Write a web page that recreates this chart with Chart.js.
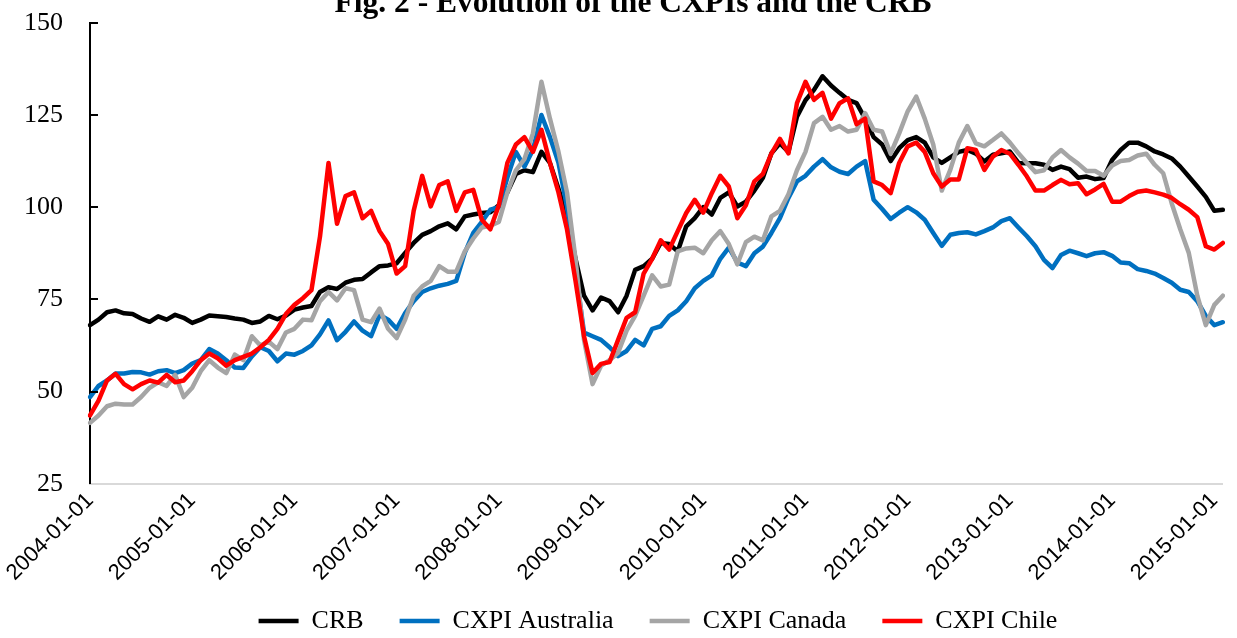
<!DOCTYPE html>
<html>
<head>
<meta charset="utf-8">
<title>Fig. 2 - Evolution of the CXPIs and the CRB</title>
<script src="https://cdn.jsdelivr.net/npm/chart.js@4.4.1/dist/chart.umd.min.js"></script>
<style>
    html, body { margin: 0; padding: 0; background: #fff; overflow: hidden; }
    #wrap { position: relative; width: 1237px; height: 638px; overflow: hidden; }
    /* the figure is cropped at the top in the original, so the canvas sits a bit higher */
    #fig2 { position: absolute; left: 0; top: -20px; }
</style>
</head>
<body>
<div id="wrap"><canvas id="fig2" width="1237" height="664"></canvas></div>
<script>
// --- Data (monthly readings, Jan 2004 - Feb 2015) ---
const tickLabels = ['2004-01-01', '2005-01-01', '2006-01-01', '2007-01-01', '2008-01-01', '2009-01-01',
    '2010-01-01', '2011-01-01', '2012-01-01', '2013-01-01', '2014-01-01', '2015-01-01'];

const months = [];
for (let y = 2004; y <= 2015; y++) {
    for (let m = 1; m <= 12; m++) {
        if (y === 2015 && m > 2) break;
        months.push(`${y}-${String(m).padStart(2, '0')}-01`);
    }
}

const crb = [
    68, 69.5, 71.5, 72, 71.2, 71, 69.8, 68.9, 70.4, 69.5, 70.8, 70,
    68.6, 69.5, 70.6, 70.4, 70.2, 69.8, 69.5, 68.6, 69, 70.5, 69.6, 70.6,
    72.2, 72.8, 73.2, 77, 78.3, 77.8, 79.5, 80.3, 80.5, 82.3, 84, 84.2,
    84.8, 87.6, 90.3, 92.5, 93.5, 94.8, 95.6, 94, 97.5, 98, 98.4, 98.6,
    100.5, 104, 109, 110, 109.5, 115, 112, 105, 97.5, 86, 76, 72,
    75.5, 74.5, 71.5, 76, 83, 84, 86, 90.3, 90, 88, 94.8, 97,
    100, 98, 102.5, 104, 100.2, 101.5, 104.5, 108, 114.6, 117.3, 115, 124.5,
    129, 131.8, 135.5, 133, 131, 129.1, 128.2, 124, 119, 117, 112.5, 116,
    118.2, 119, 117.5, 113.5, 112, 113.5, 115, 115.5, 114.5, 112.4, 114.2, 114.6,
    115.1, 112, 111.9, 111.9, 111.5, 110.1, 111, 110.3, 108, 108.3, 107.6, 107.9,
    112.8, 115.5, 117.5, 117.5, 116.5, 115.1, 114.3, 113.2, 111, 108.3, 105.6, 102.8,
    99, 99.3
];

const cxpiAustralia = [
    48.5, 51.5, 53, 54.9, 54.9, 55.3, 55.2, 54.6, 55.5, 55.8, 55, 55.8,
    57.6, 58.5, 61.5, 60.3, 58.5, 56.5, 56.4, 59.5, 62, 61, 58.2, 60.3,
    60, 61, 62.5, 65.5, 69.3, 63.9, 66.2, 69, 66.5, 65, 70.8, 69.5,
    67, 71.3, 74.5, 77, 78, 78.7, 79.2, 80, 87.6, 93, 96, 99.3,
    100, 108, 115, 111, 115.5, 125, 119, 112, 100, 83, 66, 65,
    64, 62, 59.6, 61, 64, 62.5, 67, 67.7, 70.5, 72, 74.5, 78,
    80, 81.5, 86, 89, 85, 84, 87.5, 89.3, 93, 97, 102.5, 107,
    108.5, 111, 113, 110.8, 109.6, 109, 111, 112.5, 102, 99.5, 96.8, 98.5,
    100, 98.6, 96.6, 93, 89.5, 92.5, 93, 93.2, 92.6, 93.5, 94.5, 96.2,
    97, 94.5, 92.1, 89.4, 85.7, 83.5, 87, 88.2, 87.5, 86.7, 87.5, 87.8,
    86.8, 85, 84.8, 83.2, 82.7, 82, 80.8, 79.5, 77.6, 77, 74.5, 70.5,
    68, 68.8
];

const cxpiCanada = [
    41.5, 43.5, 46, 46.7, 46.5, 46.5, 48.5, 51, 52.5, 51.5, 54.5, 48.5,
    51, 55.5, 58.5, 56.5, 55, 60, 58.5, 65, 62.5, 63.5, 61.5, 66,
    67, 69.5, 69.3, 74.5, 77, 74.7, 78, 77.5, 69.5, 68.8, 72.5, 67,
    64.5, 69.5, 76, 78.5, 80, 84, 82.5, 82.5, 88, 91.5, 94.5, 95,
    96, 104, 110, 113, 120, 134, 124, 115, 104, 86, 64, 52,
    57, 58.5, 60.5, 66.5, 70.5, 76, 81.5, 78.5, 79, 88, 88.8, 89,
    87.5, 91, 93.5, 90, 84.5, 90.5, 92, 91, 97.5, 99, 103.5, 110,
    115, 122.8, 124.5, 121, 122, 120.5, 121, 125.5, 121, 120.5, 114.5, 120,
    126, 130, 124, 117, 104.5, 110.1, 117.5, 122, 117.3, 116.5, 118.2, 120,
    117.5, 114.6, 112, 109.5, 110, 113.5, 115.5, 113.5, 111.8, 109.8, 109.8, 108.5,
    111.3, 112.5, 112.8, 114, 114.5, 111.5, 109.2, 101, 94, 87.6, 76, 68,
    73.5, 76
];

const cxpiChile = [
    43.5, 47.5, 53, 54.8, 52, 50.6, 52, 53, 52.4, 54.5, 52.5, 53,
    55.5, 58.5, 60.3, 59, 57, 58.5, 59.4, 60.3, 62, 64, 67, 71,
    73.5, 75.3, 77.5, 92, 112, 95.5, 103, 104, 97, 99, 93.5, 90,
    82, 84, 99, 108.5, 100.2, 106, 107, 99, 104, 104.7, 96.6, 94,
    100.5, 112, 117, 119, 115, 121, 112, 104, 94, 80, 65, 55,
    57.5, 58, 64, 70, 71.5, 82, 86, 91, 88.5, 93.5, 98.4, 102,
    98.5, 103.8, 108.5, 105.6, 97, 100.5, 107, 109, 114.5, 118.5, 114.6, 128.2,
    134, 129.1, 131, 124, 128.2, 129.5, 122.5, 124, 107, 106, 103.8, 112,
    116.5, 117.5, 115, 109.2, 105.6, 107.5, 107.5, 116, 115.5, 110.1, 113.7, 115.5,
    114.5, 111.5, 108.3, 104.5, 104.5, 106, 107.4, 106.2, 106.5, 103.5, 104.8, 106.3,
    101.5, 101.5, 103, 104.2, 104.5, 104, 103.4, 102.5, 100.8, 99.3, 97.3, 89.4,
    88.5, 90.3
];

document.addEventListener('DOMContentLoaded', () => {
    const canvas = document.getElementById('fig2');
    const CANVAS_H = canvas.height;
    const PLOT_BOTTOM = 503.7;   // canvas px of the 25 line
    const serif = "'Liberation Serif', 'Times New Roman', serif";
    const sans = "'Liberation Sans', Arial, sans-serif";

    // small tick marks on the inner side of the y axis
    const innerTicks = {
        id: 'innerTicks',
        afterDraw(chart) {
            const y = chart.scales.y;
            const c = chart.ctx;
            c.save();
            c.strokeStyle = '#000';
            c.lineWidth = 2;
            y.ticks.forEach(t => {
                if (t.value === y.min) return;
                const py = Math.round(y.getPixelForValue(t.value));
                c.beginPath();
                c.moveTo(y.right, py);
                c.lineTo(y.right + 8, py);
                c.stroke();
            });
            c.restore();
        }
    };

    // title and legend are a little right of centre in the original;
    // the rotated date labels run down into the legend band, so don't clip them at the axis box
    const shiftBoxes = {
        id: 'shiftBoxes',
        afterLayout(chart) {
            if (chart.titleBlock) chart.titleBlock.left += 29;
            if (chart.legend) chart.legend.left += 79;
            chart.scales.x.bottom = chart.height;
        }
    };

    const line = (label, data, color, order) => ({
        label: label,
        data: data,
        borderColor: color,
        backgroundColor: color,
        borderWidth: 4.5,
        borderCapStyle: 'round',
        borderJoinStyle: 'round',
        pointRadius: 0,
        tension: 0,
        fill: false,
        order: order
    });

    new Chart(canvas, {
        type: 'line',
        data: {
            labels: months,
            datasets: [
                line('CRB', crb, '#000000', 3),
                line('CXPI Australia', cxpiAustralia, '#0070C0', 2),
                line('CXPI Canada', cxpiCanada, '#A5A5A5', 1),
                line('CXPI Chile', cxpiChile, '#FF0000', 0)
            ]
        },
        options: {
            responsive: false,
            animation: false,
            layout: { padding: 0 },
            plugins: {
                title: {
                    display: true,
                    text: 'Fig. 2 - Evolution of the CXPIs and the CRB',
                    color: '#000',
                    font: { family: serif, size: 31.5, weight: 'bold' },
                    padding: { top: 5, bottom: 0 }
                },
                legend: {
                    position: 'bottom',
                    labels: {
                        usePointStyle: true,
                        pointStyle: 'line',
                        pointStyleWidth: 40,
                        padding: 36,
                        color: '#000',
                        font: { family: serif, size: 26 },
                        sort: (a, b) => a.datasetIndex - b.datasetIndex
                    }
                },
                tooltip: { enabled: false }
            },
            scales: {
                x: {
                    type: 'category',
                    grid: { display: false, drawTicks: false },
                    border: { display: true, color: '#D9D9D9', width: 2 },
                    ticks: {
                        autoSkip: false,
                        minRotation: 45,
                        maxRotation: 45,
                        padding: 4,
                        color: '#000',
                        font: { family: sans, size: 22 },
                        callback: function (value) {
                            const lab = this.getLabelForValue(value);
                            return tickLabels.includes(lab) ? lab : null;
                        }
                    },
                    afterFit: (scale) => {
                        scale.height = CANVAS_H - scale.chart.legend.height - PLOT_BOTTOM;
                    }
                },
                y: {
                    min: 25,
                    max: 150,
                    grid: { display: false, drawTicks: false },
                    border: { display: true, color: '#000', width: 2 },
                    ticks: {
                        stepSize: 25,
                        padding: 27,
                        color: '#000',
                        font: { family: serif, size: 26 }
                    },
                    afterFit: (scale) => {
                        scale.width = 90;
                    }
                }
            }
        },
        plugins: [innerTicks, shiftBoxes]
    });
});
</script>
</body>
</html>
